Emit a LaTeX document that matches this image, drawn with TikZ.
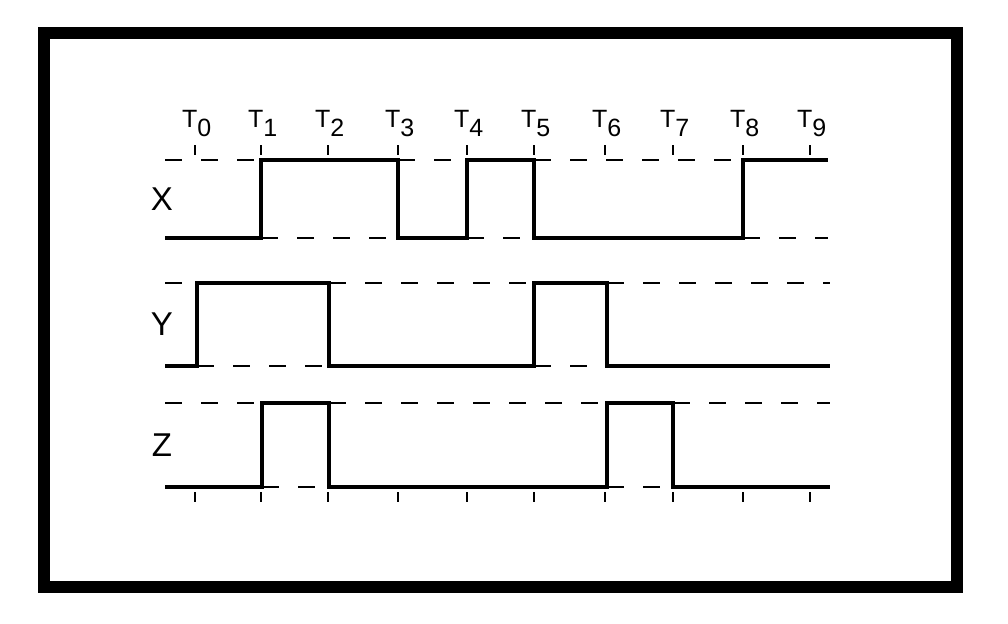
\documentclass[tikz,border=0pt]{standalone}
\usepackage{fontspec}
\setmainfont{Liberation Sans}
\usetikzlibrary{calc}

\tikzset{
  wave/.style={line width=4pt, line join=miter},
  guide/.style={line width=2.5pt, dash pattern=on 17pt off 19pt},
  tmark/.style={line width=2pt},
  siglab/.style={font=\fontsize{33}{33}\selectfont, inner sep=0pt}
}

\begin{document}
\begin{tikzpicture}[x=1pt,y=-1pt]
    % Fix the page size
    \useasboundingbox (0,0) rectangle (1008,623);

    % Draw the frame
    \draw[line width=12pt] (44,33.5) rectangle (957,587);

    % Time marks and their labels
    \foreach \x/\i in {195/0,261/1,328/2,398/3,467/4,534/5,605/6,673/7,743/8,810/9} {
        \draw[tmark] (\x,145) -- (\x,155);
        \draw[tmark] (\x,492) -- (\x,502);
        \node[anchor=base west, inner sep=0pt, font=\fontsize{25}{25}\selectfont]
            (tlab\i) at (\x-13,128) {T\raisebox{-9pt}{\i}};
    }

    % Signal names
    \node[siglab] (xlab) at (162,199) {X};
    \node[siglab] (ylab) at (162,324) {Y};
    \node[siglab] (zlab) at (162,445) {Z};

    % Dashed levels of X
    \draw[guide] (165,160) -- (261,160);
    \draw[guide] (398,160) -- (467,160);
    \draw[guide] (534,160) -- (743,160);
    \draw[guide] (261,238) -- (398,238);
    \draw[guide] (467,238) -- (534,238);
    \draw[guide] (743,238) -- (828,238);

    % Dashed levels of Y
    \draw[guide] (165,283) -- (197,283);
    \draw[guide] (329,283) -- (534,283);
    \draw[guide] (607,283) -- (830,283);
    \draw[guide] (197,366) -- (329,366);
    \draw[guide] (534,366) -- (607,366);

    % Dashed levels of Z
    \draw[guide] (165,403) -- (262,403);
    \draw[guide] (329,403) -- (607,403);
    \draw[guide] (673,403) -- (830,403);
    \draw[guide] (262,487) -- (329,487);
    \draw[guide] (607,487) -- (673,487);

    % Waveform X
    \draw[wave] (165,238) -- (261,238) -- (261,160) -- (398,160) -- (398,238)
        -- (467,238) -- (467,160) -- (534,160) -- (534,238) -- (743,238)
        -- (743,160) -- (828,160);

    % Waveform Y
    \draw[wave] (165,366) -- (197,366) -- (197,283) -- (329,283) -- (329,366)
        -- (534,366) -- (534,283) -- (607,283) -- (607,366) -- (830,366);

    % Waveform Z
    \draw[wave] (165,487) -- (262,487) -- (262,403) -- (329,403) -- (329,487)
        -- (607,487) -- (607,403) -- (673,403) -- (673,487) -- (830,487);

\end{tikzpicture}
\end{document}
